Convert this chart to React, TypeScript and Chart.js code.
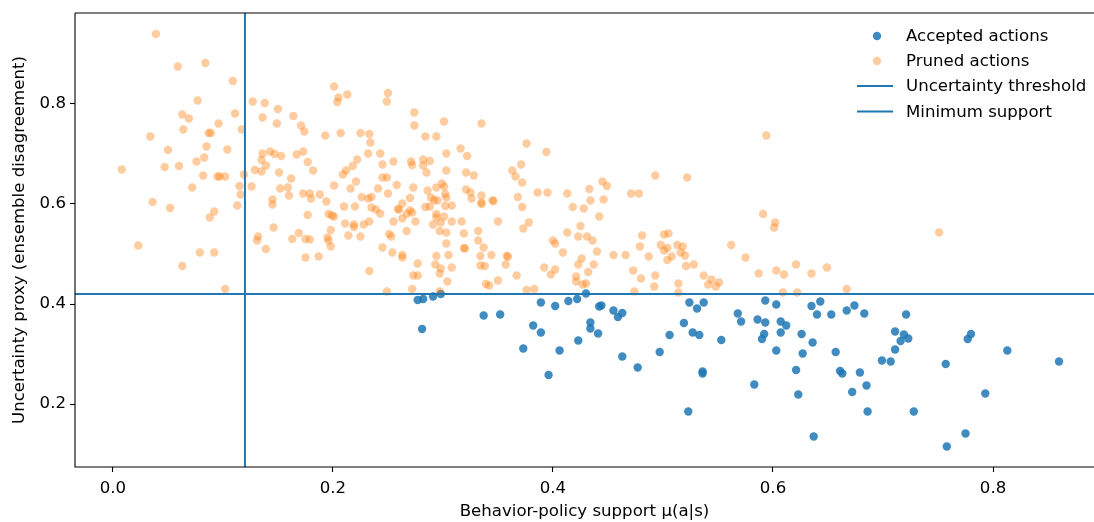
import React, { useEffect, useRef } from "react";
import { Chart, registerables } from "chart.js";

Chart.register(...registerables);

const acceptedX = [
  0.277, 0.282, 0.291, 0.298, 0.281, 0.337, 0.352, 0.373, 0.382, 0.389, 0.389, 0.402, 0.396, 0.406, 0.414,
  0.422, 0.423, 0.430, 0.434, 0.434, 0.441, 0.442, 0.444, 0.455, 0.459, 0.463, 0.463, 0.477, 0.497, 0.506,
  0.519, 0.524, 0.531, 0.537, 0.527, 0.533, 0.536, 0.536, 0.523, 0.553, 0.568, 0.571, 0.583, 0.586, 0.593,
  0.593, 0.603, 0.592, 0.590, 0.603, 0.607, 0.612, 0.607, 0.621, 0.623, 0.626, 0.627, 0.636, 0.637, 0.635,
  0.640, 0.643, 0.653, 0.657, 0.661, 0.663, 0.667, 0.674, 0.683, 0.679, 0.672, 0.685, 0.686, 0.699, 0.707,
  0.711, 0.711, 0.719, 0.716, 0.723, 0.721, 0.728, 0.757, 0.758, 0.775, 0.780, 0.777, 0.793, 0.813, 0.860,
];
const acceptedY = [
  0.408, 0.410, 0.415, 0.420, 0.350, 0.377, 0.379, 0.311, 0.357, 0.343, 0.403, 0.396, 0.258, 0.307, 0.406,
  0.410, 0.327, 0.421, 0.363, 0.351, 0.341, 0.395, 0.397, 0.387, 0.374, 0.382, 0.295, 0.273, 0.304, 0.338,
  0.362, 0.403, 0.391, 0.403, 0.343, 0.338, 0.265, 0.261, 0.185, 0.328, 0.381, 0.365, 0.239, 0.369, 0.363,
  0.407, 0.399, 0.340, 0.330, 0.307, 0.365, 0.357, 0.343, 0.268, 0.219, 0.340, 0.301, 0.323, 0.135, 0.396,
  0.379, 0.405, 0.379, 0.304, 0.266, 0.261, 0.387, 0.397, 0.381, 0.263, 0.224, 0.237, 0.185, 0.287, 0.285,
  0.309, 0.345, 0.339, 0.326, 0.331, 0.379, 0.185, 0.280, 0.115, 0.141, 0.340, 0.330, 0.221, 0.307, 0.285,
];

const prunedX = [
  0.039, 0.059, 0.084, 0.109, 0.077, 0.063, 0.069, 0.111, 0.096, 0.127, 0.138, 0.150, 0.136, 0.149, 0.164,
  0.171, 0.174, 0.193, 0.201, 0.064, 0.087, 0.089, 0.117, 0.034, 0.050, 0.085, 0.104, 0.083, 0.076, 0.008,
  0.047, 0.060, 0.082, 0.095, 0.097, 0.102, 0.119, 0.072, 0.115, 0.116, 0.113, 0.126, 0.036, 0.052, 0.092,
  0.088, 0.023, 0.136, 0.143, 0.147, 0.153, 0.135, 0.139, 0.129, 0.135, 0.151, 0.167, 0.173, 0.177, 0.182,
  0.162, 0.152, 0.159, 0.160, 0.173, 0.179, 0.180, 0.188, 0.194, 0.145, 0.145, 0.177, 0.196, 0.199, 0.146,
  0.201, 0.132, 0.131, 0.163, 0.169, 0.175, 0.179, 0.195, 0.196, 0.139, 0.175, 0.187, 0.198, 0.079, 0.092,
  0.063, 0.102,
  0.205, 0.204, 0.213, 0.250, 0.249, 0.274, 0.274, 0.301, 0.335, 0.207, 0.225, 0.233, 0.234, 0.284, 0.294,
  0.376, 0.394, 0.316, 0.322, 0.232, 0.243, 0.222, 0.245, 0.255, 0.271, 0.272, 0.282, 0.288, 0.282, 0.285,
  0.303, 0.303, 0.218, 0.212, 0.209, 0.221, 0.245, 0.249, 0.216, 0.241, 0.258, 0.250, 0.273, 0.321, 0.328,
  0.363, 0.371, 0.366, 0.372, 0.226, 0.235, 0.232, 0.286, 0.294, 0.299, 0.301, 0.302, 0.303, 0.321, 0.325,
  0.326, 0.335, 0.335, 0.335, 0.345, 0.346, 0.368, 0.372, 0.386, 0.395, 0.413, 0.418, 0.428, 0.433, 0.434,
  0.289, 0.292, 0.284, 0.288, 0.295, 0.302, 0.308, 0.210, 0.220, 0.235, 0.239, 0.243, 0.201, 0.259, 0.260,
  0.263, 0.270, 0.267, 0.270, 0.272, 0.255, 0.263, 0.275, 0.294, 0.294, 0.301, 0.291, 0.298, 0.308, 0.317,
  0.350, 0.378, 0.373, 0.211, 0.219, 0.219, 0.228, 0.233, 0.214, 0.225, 0.198, 0.251, 0.253, 0.267, 0.297,
  0.303, 0.319, 0.332, 0.332, 0.303, 0.400, 0.413, 0.423, 0.425, 0.431,
  0.594, 0.493, 0.522, 0.445, 0.449, 0.471, 0.478, 0.446, 0.442, 0.591, 0.602, 0.601, 0.481, 0.501, 0.505,
  0.436,
  0.440, 0.455, 0.466, 0.479, 0.498, 0.501, 0.504, 0.513, 0.518, 0.516, 0.520, 0.487, 0.508, 0.504, 0.562,
  0.575, 0.521, 0.528, 0.437, 0.432, 0.430, 0.473, 0.480, 0.493, 0.492, 0.474, 0.514, 0.514, 0.537, 0.544,
  0.541, 0.551, 0.548, 0.587, 0.603, 0.610, 0.621, 0.635, 0.649, 0.609, 0.622, 0.667, 0.751,
  0.245, 0.254, 0.263, 0.263, 0.277, 0.233, 0.273, 0.277, 0.249, 0.272, 0.294, 0.305, 0.293, 0.298, 0.297,
  0.308, 0.304, 0.297, 0.319, 0.320, 0.337, 0.334, 0.344, 0.334, 0.338, 0.358, 0.359, 0.357, 0.339, 0.342,
  0.350, 0.367, 0.376, 0.383, 0.392, 0.398, 0.402, 0.409, 0.402, 0.426, 0.423, 0.421, 0.421, 0.427,
];
const prunedY = [
  0.940, 0.875, 0.882, 0.846, 0.807, 0.779, 0.771, 0.781, 0.761, 0.805, 0.802, 0.790, 0.773, 0.761, 0.776,
  0.757, 0.745, 0.737, 0.835, 0.749, 0.742, 0.742, 0.749, 0.735, 0.708, 0.715, 0.709, 0.693, 0.685, 0.669,
  0.674, 0.676, 0.657, 0.655, 0.655, 0.655, 0.659, 0.633, 0.636, 0.619, 0.597, 0.635, 0.604, 0.592, 0.585,
  0.573, 0.517, 0.701, 0.705, 0.700, 0.696, 0.688, 0.677, 0.668, 0.665, 0.663, 0.699, 0.705, 0.684, 0.667,
  0.651, 0.631, 0.633, 0.617, 0.621, 0.621, 0.611, 0.619, 0.605, 0.609, 0.599, 0.578, 0.580, 0.577, 0.553,
  0.637, 0.535, 0.527, 0.530, 0.542, 0.530, 0.529, 0.533, 0.527, 0.510, 0.493, 0.495, 0.515, 0.503, 0.503,
  0.476, 0.430,
  0.813, 0.804, 0.819, 0.822, 0.805, 0.783, 0.757, 0.765, 0.761, 0.742, 0.742, 0.740, 0.723, 0.735, 0.735,
  0.721, 0.704, 0.711, 0.696, 0.701, 0.701, 0.689, 0.679, 0.685, 0.685, 0.678, 0.689, 0.686, 0.677, 0.663,
  0.701, 0.667, 0.676, 0.667, 0.659, 0.645, 0.653, 0.653, 0.631, 0.631, 0.638, 0.621, 0.633, 0.663, 0.657,
  0.667, 0.679, 0.655, 0.643, 0.614, 0.614, 0.611, 0.627, 0.633, 0.641, 0.635, 0.620, 0.613, 0.629, 0.623,
  0.611, 0.617, 0.603, 0.600, 0.607, 0.606, 0.614, 0.594, 0.623, 0.623, 0.621, 0.594, 0.591, 0.630, 0.607,
  0.613, 0.608, 0.594, 0.595, 0.607, 0.596, 0.597, 0.595, 0.595, 0.593, 0.589, 0.581, 0.575, 0.590, 0.589,
  0.601, 0.612, 0.580, 0.587, 0.583, 0.565, 0.571, 0.565, 0.580, 0.573, 0.575, 0.559, 0.563, 0.565, 0.565,
  0.565, 0.563, 0.551, 0.561, 0.559, 0.554, 0.559, 0.565, 0.537, 0.535, 0.548, 0.540, 0.535, 0.546, 0.546,
  0.543, 0.541, 0.546, 0.527, 0.521, 0.527, 0.543, 0.535, 0.556, 0.535,
  0.737, 0.657, 0.653, 0.645, 0.636, 0.621, 0.621, 0.609, 0.575, 0.580, 0.563, 0.553, 0.537, 0.539, 0.541,
  0.527,
  0.505, 0.498, 0.498, 0.515, 0.518, 0.507, 0.512, 0.518, 0.515, 0.503, 0.497, 0.495, 0.495, 0.488, 0.518,
  0.493, 0.476, 0.479, 0.479, 0.464, 0.441, 0.467, 0.451, 0.457, 0.435, 0.425, 0.441, 0.423, 0.457, 0.449,
  0.439, 0.443, 0.435, 0.461, 0.467, 0.459, 0.479, 0.461, 0.473, 0.423, 0.423, 0.430, 0.543,
  0.513, 0.503, 0.498, 0.493, 0.481, 0.466, 0.457, 0.457, 0.425, 0.430, 0.496, 0.498, 0.479, 0.471, 0.461,
  0.473, 0.445, 0.425, 0.512, 0.511, 0.513, 0.496, 0.498, 0.477, 0.476, 0.496, 0.495, 0.479, 0.440, 0.437,
  0.447, 0.457, 0.428, 0.430, 0.473, 0.459, 0.469, 0.503, 0.521, 0.491, 0.479, 0.455, 0.445, 0.439,
];

const xTicks = [0.0, 0.2, 0.4, 0.6, 0.8];
const yTicks = [0.2, 0.4, 0.6, 0.8];
const uncertaintyThreshold = 0.42;
const minimumSupport = 0.12;
const legendLabels = ["Accepted actions", "Pruned actions", "Uncertainty threshold", "Minimum support"];

const BLUE = "#1f77b4";
const BLUE_PT = "rgba(31,119,180,0.85)";
const ORANGE_PT = "rgba(255,127,14,0.4)";
const FONT = "'DejaVu Sans', sans-serif";
const FS = 16.6;

export default function App() {
  const ref = useRef<HTMLCanvasElement | null>(null);

  useEffect(() => {
    document.body.style.margin = "0";
    const canvas = ref.current;
    if (!canvas) return;

    const toPts = (xs: number[], ys: number[]) => xs.map((x, i) => ({ x, y: ys[i] }));

    const overlay = {
      id: "overlay",
      afterDatasetsDraw(chart: any) {
        const { ctx, chartArea: a, scales } = chart;
        const xs = scales.x;
        const ys = scales.y;
        ctx.save();
        ctx.beginPath();
        ctx.rect(a.left, a.top, a.right - a.left, a.bottom - a.top);
        ctx.clip();
        ctx.strokeStyle = BLUE;
        ctx.lineWidth = 2;
        const hy = ys.getPixelForValue(uncertaintyThreshold);
        ctx.beginPath();
        ctx.moveTo(a.left, hy);
        ctx.lineTo(a.right, hy);
        ctx.stroke();
        const vx = xs.getPixelForValue(minimumSupport);
        ctx.beginPath();
        ctx.moveTo(vx, a.top);
        ctx.lineTo(vx, a.bottom);
        ctx.stroke();
        ctx.restore();

        // frame
        ctx.save();
        ctx.strokeStyle = "#000";
        ctx.lineWidth = 1.1;
        ctx.beginPath();
        ctx.moveTo(a.left, a.top);
        ctx.lineTo(a.right + 2, a.top);
        ctx.moveTo(a.left, a.top);
        ctx.lineTo(a.left, a.bottom);
        ctx.lineTo(a.right + 2, a.bottom);
        ctx.stroke();
        ctx.restore();

        // legend
        ctx.save();
        const rowY = [36, 61, 86, 111.5];
        const markerX = 877;
        const textX = 906;
        ctx.font = `${FS}px ${FONT}`;
        ctx.textBaseline = "middle";
        legendLabels.forEach((lab, i) => {
          const y = rowY[i];
          if (i === 0 || i === 1) {
            ctx.beginPath();
            ctx.arc(markerX, y, 4.2, 0, Math.PI * 2);
            ctx.fillStyle = i === 0 ? BLUE_PT : ORANGE_PT;
            ctx.fill();
          } else {
            ctx.strokeStyle = BLUE;
            ctx.lineWidth = 2;
            ctx.beginPath();
            ctx.moveTo(857, y);
            ctx.lineTo(893, y);
            ctx.stroke();
          }
          ctx.fillStyle = "#000";
          ctx.fillText(lab, textX, y + 1);
        });
        ctx.restore();
      },
    };

    const chart = new Chart(canvas, {
      type: "scatter",
      data: {
        datasets: [
          {
            label: legendLabels[0],
            data: toPts(acceptedX, acceptedY),
            backgroundColor: BLUE_PT,
            borderWidth: 0,
            pointRadius: 4.2,
            order: 2,
          },
          {
            label: legendLabels[1],
            data: toPts(prunedX, prunedY),
            backgroundColor: ORANGE_PT,
            borderWidth: 0,
            pointRadius: 4.2,
            order: 1,
          },
        ],
      },
      options: {
        animation: false,
        responsive: false,
        layout: { autoPadding: false, padding: { top: 13, left: 0, right: 0, bottom: 0 } },
        plugins: {
          legend: { display: false },
          tooltip: { enabled: false },
        },
        scales: {
          x: {
            type: "linear",
            min: -0.0345,
            max: 0.8918,
            afterBuildTicks: (axis: any) => {
              axis.ticks = xTicks.map((v) => ({ value: v }));
            },
            afterFit: (axis: any) => {
              axis.height = 55;
              axis.paddingLeft = 0;
              axis.paddingRight = 0;
            },
            ticks: {
              callback: (v: any) => Number(v).toFixed(1),
              font: { family: FONT, size: FS },
              color: "#000",
              padding: 7,
              maxRotation: 0,
            },
            grid: {
              drawOnChartArea: false,
              drawTicks: true,
              tickLength: 5,
              tickColor: "#000",
              tickWidth: 1.1,
            },
            border: { display: false },
            title: {
              display: true,
              text: "Behavior-policy support μ(a|s)",
              font: { family: FONT, size: FS },
              color: "#000",
              padding: { top: 2, bottom: 0 },
            },
          },
          y: {
            type: "linear",
            min: 0.074,
            max: 0.982,
            afterBuildTicks: (axis: any) => {
              axis.ticks = yTicks.map((v) => ({ value: v }));
            },
            afterFit: (axis: any) => {
              axis.width = 75;
              axis.paddingTop = 0;
              axis.paddingBottom = 0;
            },
            ticks: {
              callback: (v: any) => Number(v).toFixed(1),
              font: { family: FONT, size: FS },
              color: "#000",
              padding: 4,
            },
            grid: {
              drawOnChartArea: false,
              drawTicks: true,
              tickLength: 5,
              tickColor: "#000",
              tickWidth: 1.1,
            },
            border: { display: false },
            title: {
              display: true,
              text: "Uncertainty proxy (ensemble disagreement)",
              font: { family: FONT, size: FS },
              color: "#000",
              padding: { top: 10, bottom: 0 },
            },
          },
        },
      },
      plugins: [overlay],
    } as any);

    return () => {
      chart.destroy();
    };
  }, []);

  return (
    <div style={{ position: "absolute", left: 0, top: 0, width: 1094, height: 522 }}>
      <canvas ref={ref} width={1094} height={522} style={{ display: "block" }} />
    </div>
  );
}
